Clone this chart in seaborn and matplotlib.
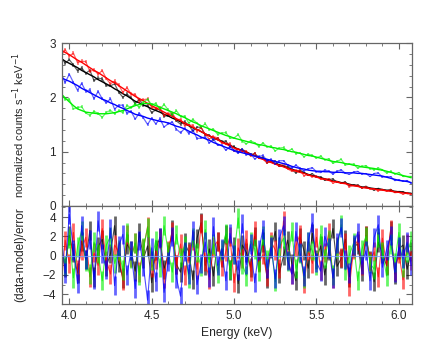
import numpy as np
import matplotlib
matplotlib.use("Agg")
import matplotlib.pyplot as plt
import seaborn as sns
from matplotlib.ticker import MultipleLocator

# bin centres (keV), one bin per 0.025 keV
energy = np.linspace(3.95, 6.075, 86)
err_scale = 0.02  # relative size of the 1-sigma error bars in the top panel

# folded model, normalized counts s^-1 keV^-1
model_black = [
    2.72, 2.67, 2.63, 2.59, 2.55, 2.50, 2.46, 2.42, 2.38, 2.33,
    2.29, 2.25, 2.21, 2.16, 2.12, 2.07, 2.03, 1.98, 1.93, 1.90,
    1.86, 1.83, 1.79, 1.76, 1.73, 1.69, 1.66, 1.62, 1.59, 1.55,
    1.52, 1.48, 1.44, 1.41, 1.37, 1.33, 1.29, 1.26, 1.22, 1.19,
    1.15, 1.12, 1.08, 1.05, 1.02, 0.99, 0.96, 0.93, 0.90, 0.87,
    0.84, 0.81, 0.78, 0.76, 0.73, 0.70, 0.68, 0.65, 0.63, 0.61,
    0.58, 0.56, 0.54, 0.52, 0.50, 0.48, 0.46, 0.45, 0.43, 0.42,
    0.40, 0.38, 0.37, 0.35, 0.34, 0.33, 0.32, 0.31, 0.30, 0.29,
    0.28, 0.27, 0.26, 0.25, 0.24, 0.23]
model_red = [
    2.88, 2.83, 2.79, 2.74, 2.69, 2.65, 2.60, 2.55, 2.50, 2.46,
    2.41, 2.36, 2.31, 2.27, 2.22, 2.17, 2.12, 2.07, 2.02, 1.98,
    1.94, 1.89, 1.85, 1.81, 1.77, 1.73, 1.69, 1.65, 1.61, 1.57,
    1.53, 1.49, 1.45, 1.41, 1.37, 1.33, 1.29, 1.26, 1.22, 1.18,
    1.14, 1.11, 1.07, 1.04, 1.01, 0.98, 0.95, 0.92, 0.89, 0.86,
    0.83, 0.80, 0.77, 0.75, 0.72, 0.69, 0.67, 0.64, 0.62, 0.60,
    0.57, 0.55, 0.53, 0.51, 0.49, 0.47, 0.45, 0.44, 0.42, 0.41,
    0.39, 0.37, 0.36, 0.34, 0.33, 0.32, 0.31, 0.30, 0.29, 0.28,
    0.27, 0.26, 0.25, 0.24, 0.23, 0.22]
model_green = [
    2.07, 1.99, 1.92, 1.85, 1.79, 1.76, 1.73, 1.72, 1.71, 1.70,
    1.70, 1.70, 1.71, 1.72, 1.74, 1.76, 1.79, 1.82, 1.85, 1.87,
    1.89, 1.89, 1.88, 1.85, 1.82, 1.79, 1.76, 1.73, 1.70, 1.66,
    1.63, 1.59, 1.55, 1.52, 1.48, 1.45, 1.42, 1.39, 1.36, 1.33,
    1.30, 1.28, 1.25, 1.23, 1.21, 1.19, 1.17, 1.15, 1.13, 1.12,
    1.10, 1.08, 1.07, 1.05, 1.04, 1.02, 1.00, 0.99, 0.97, 0.95,
    0.93, 0.92, 0.90, 0.88, 0.86, 0.84, 0.82, 0.81, 0.80, 0.78,
    0.77, 0.75, 0.74, 0.72, 0.71, 0.70, 0.69, 0.67, 0.66, 0.64,
    0.62, 0.60, 0.58, 0.56, 0.54, 0.52]
model_blue = [
    2.37, 2.33, 2.30, 2.26, 2.22, 2.17, 2.13, 2.09, 2.05, 2.01,
    1.97, 1.94, 1.90, 1.87, 1.83, 1.80, 1.76, 1.73, 1.69, 1.67,
    1.65, 1.62, 1.60, 1.58, 1.56, 1.55, 1.53, 1.50, 1.47, 1.45,
    1.42, 1.38, 1.34, 1.31, 1.27, 1.24, 1.21, 1.17, 1.14, 1.11,
    1.08, 1.05, 1.02, 1.00, 0.98, 0.96, 0.94, 0.92, 0.90, 0.88,
    0.86, 0.84, 0.82, 0.80, 0.78, 0.76, 0.73, 0.71, 0.69, 0.68,
    0.66, 0.65, 0.64, 0.64, 0.63, 0.63, 0.62, 0.62, 0.62, 0.61,
    0.61, 0.61, 0.60, 0.60, 0.59, 0.58, 0.57, 0.56, 0.55, 0.53,
    0.51, 0.49, 0.47, 0.46, 0.45, 0.43]

# (data-model)/error per bin
resid_black = [
    0.8, -1.2, 2.1, 0.3, -1.8, 1.5, -0.4, 2.6, -2.2, 0.9,
    1.7, -1.1, 0.2, 3.1, -0.7, -2.3, 1.2, 0.5, -1.6, 2.4,
    -0.3, 1.0, -2.8, 0.6, 1.9, -1.4, 0.1, 2.7, -0.9, -1.7,
    1.3, 0.4, -2.5, 1.8, 3.4, -1.0, 0.7, -2.1, 1.5, -0.2,
    2.2, -1.5, 0.9, -2.9, 1.1, 0.3, -1.2, 2.0, -0.6, 1.4,
    -2.4, 0.8, 2.5, -1.8, 0.0, 1.6, -0.8, -2.6, 1.9, 0.5,
    -1.3, 2.3, -0.4, 1.0, -2.0, 0.6, 2.8, -1.1, -0.3, 1.7,
    -2.2, 0.9, 1.2, -1.6, 2.1, -0.5, -2.7, 1.4, 0.2, -1.0,
    2.6, -1.9, 0.7, 1.1, -1.4, 0.4]
resid_red = [
    -3.4, 1.6, -0.8, 2.4, -1.5, 0.6, 1.9, -2.2, 0.3, -1.0,
    2.8, -0.5, -1.9, 1.1, 0.4, -2.6, 2.2, -0.2, 1.3, -1.7,
    0.7, 3.0, -1.2, -0.4, 1.8, -2.3, 0.5, 2.5, -0.9, 1.2,
    -2.0, 0.2, 1.6, -1.4, 3.3, -0.6, -2.5, 0.9, 1.5, -1.1,
    0.4, 2.0, -2.8, 0.8, -0.3, 1.7, -1.6, 2.6, -0.7, 0.1,
    -2.1, 1.4, 0.6, -1.3, 3.6, -0.4, -1.9, 1.0, 2.2, -2.9,
    0.5, -0.8, 1.9, -1.5, 0.3, 2.4, -2.4, 0.9, -0.2, 1.3,
    -3.2, 0.7, 1.6, -1.0, 2.1, -0.6, 0.4, -2.2, 1.8, -0.9,
    2.7, -1.6, 0.2, -2.5, 1.2, -0.5]
resid_green = [
    0.5, -1.0, 1.8, -2.3, 0.9, 2.6, -0.6, -1.9, 1.4, 0.2,
    -2.6, 1.1, 2.0, -0.8, 0.6, -1.5, 2.4, -0.3, 1.3, -2.0,
    0.8, 2.9, -0.5, 1.6, -1.2, 3.1, 0.4, -1.7, 2.2, -0.2,
    1.0, -2.4, 1.9, 0.3, -1.1, 2.7, -0.7, 1.2, -1.8, 0.6,
    2.3, -1.4, 0.1, 3.9, -0.9, -2.1, 1.5, 0.7, -1.6, 2.1,
    -0.4, 1.1, -2.7, 0.9, 1.8, -0.6, 2.5, -1.3, 0.2, -2.3,
    1.4, 0.5, -1.0, 2.2, -0.3, 1.7, -2.0, 0.8, 3.2, -1.5,
    0.1, 1.3, -2.6, 0.6, 2.0, -0.8, -1.4, 1.9, 0.4, -2.1,
    1.2, -0.7, 2.4, -1.2, 0.3, 1.6]
resid_blue = [
    2.4, -1.8, 4.3, 0.6, -2.9, 3.1, -0.4, 1.7, -2.5, 3.6,
    0.2, -1.4, 2.8, -3.1, 1.0, 2.2, -2.0, 0.5, -3.4, 1.6,
    -1.1, -4.6, 0.8, -2.7, 1.9, -3.8, -0.6, 2.0, -2.3, -4.2,
    0.4, -1.9, 2.6, -3.0, -0.8, 1.4, -2.2, 3.0, -1.0, 0.7,
    -2.6, 2.3, 0.1, -1.5, 3.3, -0.9, 1.2, -2.8, 0.6, 2.7,
    -1.3, 0.9, -2.4, 1.8, 3.1, -0.5, -1.9, 2.5, 0.3, -2.1,
    1.5, 3.4, -0.7, -1.6, 2.0, 0.8, -2.3, 1.3, 2.9, -0.4,
    -1.8, 1.1, 2.4, -0.9, 0.5, -2.6, 1.9, 3.2, -1.2, 0.6,
    2.1, -1.7, 0.9, -0.3, 1.4, -1.0]

series = [
    ("black", model_black, resid_black),
    ("red", model_red, resid_red),
    ("#00f000", model_green, resid_green),
    ("blue", model_blue, resid_blue),
]

sns.set_style("ticks")
plt.rcParams["font.family"] = ["Liberation Sans", "DejaVu Sans"]
plt.rcParams["font.size"] = 8.5

fig = plt.figure(figsize=(4.36, 3.49), dpi=100)
ax_top = fig.add_axes([0.1415, 0.410, 0.804, 0.466])
ax_res = fig.add_axes([0.1415, 0.128, 0.804, 0.282], sharex=ax_top)

for color, model, resid in series:
    model = np.array(model)
    resid = np.array(resid)
    sigma = err_scale * np.sqrt(model)
    data = model + resid * sigma
    # top panel: data (jagged, light) + folded model
    ax_top.errorbar(energy, data, yerr=sigma, fmt="none",
                    ecolor=color, elinewidth=1.4, alpha=0.45)
    sns.lineplot(x=energy, y=data, color=color, linewidth=0.9, alpha=0.6,
                 ax=ax_top)
    sns.lineplot(x=energy, y=model, color=color, linewidth=1.0, ax=ax_top)
    # bottom panel: residuals
    ax_res.errorbar(energy, resid, yerr=1.0, fmt="none",
                    ecolor=color, elinewidth=2.0, alpha=0.6)
    sns.lineplot(x=energy, y=resid, color=color, linewidth=0.8, alpha=0.7,
                 ax=ax_res)

ax_res.axhline(0, color="#7aa0ff", linewidth=0.8, alpha=0.8, zorder=5)

ax_top.set_xlim(3.954, 6.081)
ax_top.set_ylim(0, 3)
ax_res.set_ylim(-5.04, 5.15)

ax_top.yaxis.set_major_locator(MultipleLocator(1))
ax_top.yaxis.set_minor_locator(MultipleLocator(0.2))
ax_top.xaxis.set_major_locator(MultipleLocator(0.5))
ax_top.xaxis.set_minor_locator(MultipleLocator(0.1))
ax_res.yaxis.set_major_locator(MultipleLocator(2))
ax_res.yaxis.set_minor_locator(MultipleLocator(1))

for ax in (ax_top, ax_res):
    ax.tick_params(which="both", direction="in", top=True, right=True,
                   color="0.4", labelsize=8.5, pad=4)
    ax.tick_params(which="major", length=4, width=0.8)
    ax.tick_params(which="minor", length=2.5, width=0.6)
    for sp in ax.spines.values():
        sp.set_color("0.4")
        sp.set_linewidth(0.9)

ax_top.tick_params(labelbottom=False)
ax_top.set_ylabel("normalized counts s$^{-1}$ keV$^{-1}$", fontsize=8)
ax_res.set_ylabel("(data-model)/error", fontsize=8.5)
ax_res.set_xlabel("Energy (keV)", fontsize=8.7, labelpad=4)
ax_top.yaxis.set_label_coords(-0.1, 0.5)
ax_res.yaxis.set_label_coords(-0.1, 0.5)

fig.savefig("out.png", dpi=100)
